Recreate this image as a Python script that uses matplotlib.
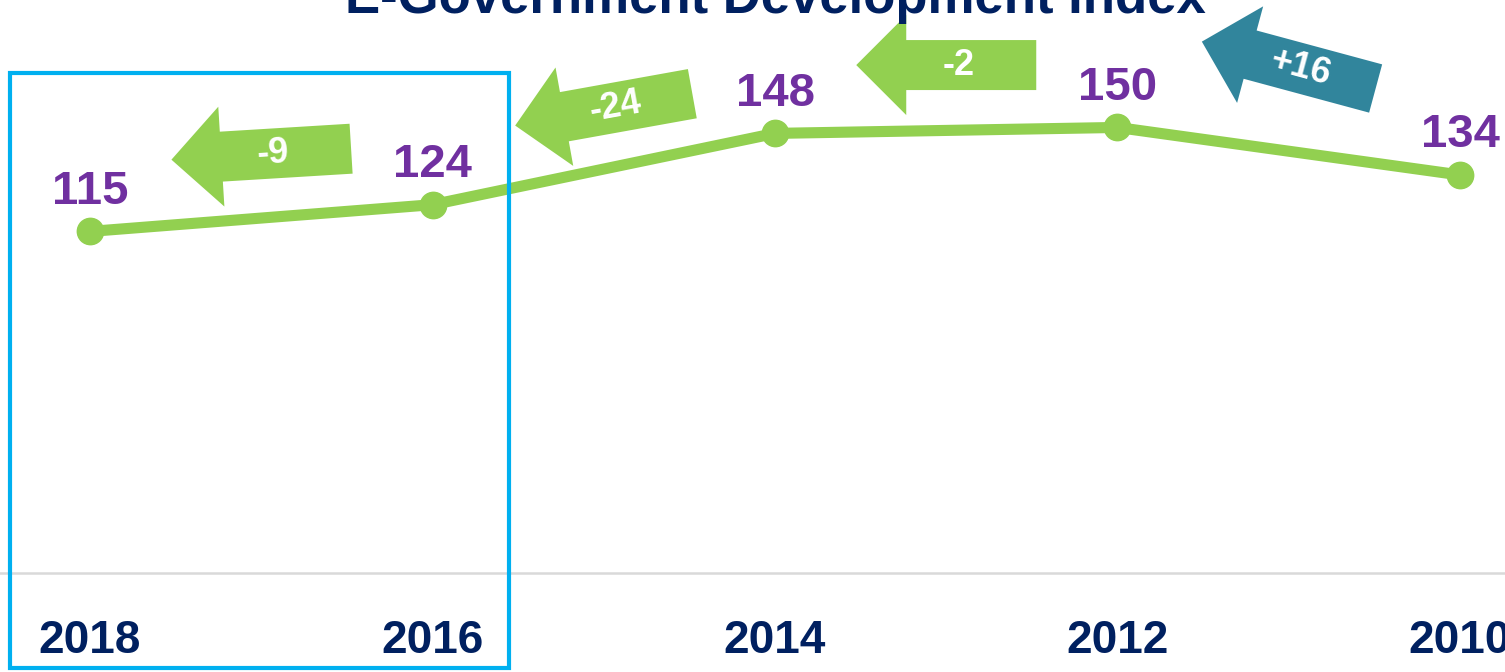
import matplotlib.pyplot as plt
import matplotlib.transforms as mtransforms
from matplotlib.patches import Polygon, Rectangle
import numpy as np

# data (ranks, newest first)
years = ['2018', '2016', '2014', '2012', '2010']
ranks = [115, 124, 148, 150, 134]
title = 'E-Government Development Index'

# change arrows sit between neighbouring years
arrow_y = [141, 156, 171, 171]
arrow_angle = [3.5, 10.2, 0, -15.1]

navy = '#002060'
purple = '#7030A0'
green = '#92D050'
teal = '#31859C'
box_blue = '#00B0F0'

plt.rcParams['font.family'] = ['Liberation Sans', 'DejaVu Sans']
plt.rcParams['font.weight'] = 'bold'

fig = plt.figure(figsize=(15.05, 6.72), dpi=100)
ax = fig.add_axes([0, 0, 1, 1])
ax.set_xlim(-0.2628, 4.1314)
ax.set_ylim(-33.3, 192.9)
ax.axis('off')

x = np.arange(len(years))

ax.axhline(0, color='#D9D9D9', lw=1.8, zorder=1)
ax.plot(x, ranks, color=green, lw=8, marker='o', ms=19, zorder=3)

for xi, r in zip(x, ranks):
    ax.annotate(str(r), (xi, r), xytext=(0, 20), textcoords='offset points',
                ha='center', va='baseline', color=purple, fontsize=34,
                fontweight='bold', zorder=5)

for xi, y in zip(x, years):
    ax.annotate(y, (xi, 0), xytext=(0, -57.6), textcoords='offset points',
                ha='center', va='baseline', color=navy, fontsize=33,
                fontweight='bold')

ax.text(2, 188.5, title, ha='center', va='baseline', color=navy,
        fontsize=38, fontweight='bold')

# highlight box round the last two years
box = Rectangle((-0.2336, -32.0), 1.4570, 200.4, fill=False,
                edgecolor=box_blue, lw=3, zorder=4)
ax.add_patch(box)

# block arrows pointing left, shape in pixels
shape = np.array([[-90, 0], [-40, 50], [-40, 25], [90, 25],
                  [90, -25], [-40, -25], [-40, -50]])
for i in range(len(ranks) - 1):
    change = ranks[i] - ranks[i + 1]
    label = f'{change:+d}' if change > 0 else f'{change:d}'
    col = teal if change > 0 else green
    cx = i + 0.5
    ang = arrow_angle[i]
    tr = (mtransforms.Affine2D().rotate_deg(ang)
          + mtransforms.ScaledTranslation(cx, arrow_y[i], ax.transData))
    ax.add_patch(Polygon(shape, closed=True, facecolor=col, edgecolor='none',
                         transform=tr, zorder=2))
    a = np.radians(ang)
    ax.annotate(label, (cx, arrow_y[i]),
                xytext=(12 * 0.72 * np.cos(a), 12 * 0.72 * np.sin(a)),
                textcoords='offset points', ha='center', va='center',
                rotation=ang, rotation_mode='anchor', color='white',
                fontsize=26, fontweight='bold', zorder=3)

fig.savefig('out.png', dpi=100)
